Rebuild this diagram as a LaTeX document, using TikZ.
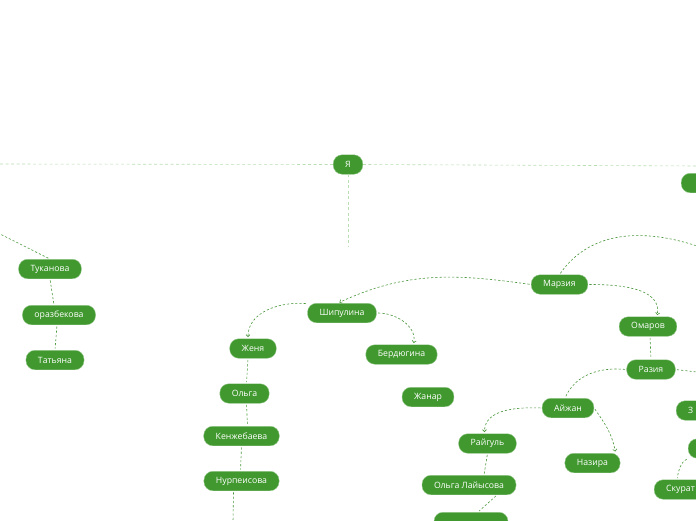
\documentclass[tikz,border=0pt]{standalone}
\usepackage{fontspec}
\setmainfont{Open Sans}
\usepackage{tikz}
\usetikzlibrary{arrows.meta,positioning,calc}

\definecolor{mapgreen}{RGB}{64,152,46}
\definecolor{maprim}{RGB}{150,200,140}
\definecolor{linkdark}{RGB}{72,150,58}
\definecolor{linklite}{RGB}{185,222,178}

\begin{document}
\begin{tikzpicture}[
    x=1pt, y=-1pt,
    >={Straight Barb[length=2pt,width=4pt]},
    topic/.style={draw=maprim, line width=0.4pt, fill=mapgreen, rounded corners=9pt, text=white,
        minimum height=19.5pt, inner xsep=12pt, inner ysep=0pt, font=\fontsize{8.7}{10}\selectfont},
    cut/.style={topic, anchor=west, text width=60pt, align=left},
    link/.style={draw=linkdark, line width=0.6pt, dash pattern=on 2.2pt off 2pt, shorten <=1.5pt, shorten >=1.5pt},
    lite/.style={draw=linklite, line width=0.6pt, dash pattern=on 3pt off 2.5pt},
    tip/.style={link, ->}
]
    \useasboundingbox (0,0) rectangle (696,520);
    \clip (0,0) rectangle (696,520);

    % root and its branches
    \node[topic] (me) at (348,164.5) {Я};
    \coordinate (offleft) at (0,164);
    \coordinate (offright) at (700,166);
    \coordinate (offdown) at (348,246);
    \draw[lite] (me.west) -- (offleft);
    \draw[lite] (me.east) -- (offright);
    \draw[lite] (me.south) -- (offdown);

    % left column
    \node[topic] (tukan) at (50,269) {Туканова};
    \node[topic] (oraz) at (59,315) {оразбекова};
    \node[topic] (tatyana) at (55,360) {Татьяна};
    \coordinate (offtukan) at (0,234);
    \draw[link] (offtukan) -- (tukan.north);
    \draw[link] (tukan.south) -- ([xshift=-5pt]oraz.north);
    \draw[link] ([xshift=-2pt]oraz.south) -- (tatyana.north);

    % Shipulina branch
    \node[topic] (shipul) at (342,313) {Шипулина};
    \node[topic] (zhenya) at (253,348.5) {Женя};
    \node[topic] (olga) at (244.5,393.5) {Ольга};
    \node[topic] (kenzh) at (241.5,436) {Кенжебаева};
    \node[topic] (nurp) at (241.5,481) {Нурпеисова};
    \node[topic] (berd) at (401.5,354.5) {Бердюгина};
    \node[topic] (zhanar) at (428,397) {Жанар};
    \coordinate (offnurp) at (233,522);

    \draw[tip] (shipul.165) to[out=175,in=90] ([xshift=-5pt]zhenya.north);
    \draw[tip] (shipul.east) to[out=0,in=80] ([xshift=12pt]berd.north);
    \draw[link] ([xshift=-5pt]zhenya.south) -- ([xshift=2pt]olga.north);
    \draw[link] ([xshift=2pt]olga.south) -- ([xshift=6pt]kenzh.north);
    \draw[link] (kenzh.south) -- ([xshift=-1pt]nurp.north);
    \draw[link] ([xshift=-8pt]nurp.south) -- (offnurp);

    % Marziya branch
    \node[topic] (marz) at (559.5,284.5) {Марзия};
    \node[topic] (omarov) at (648,326.5) {Омаров};
    \node[topic] (razia) at (651,369.5) {Разия};
    \node[topic] (aizhan) at (568,408) {Айжан};
    \node[topic] (raigul) at (487.5,443.5) {Райгуль};
    \node[topic] (nazira) at (592.5,463) {Назира};
    \node[topic] (olgal) at (469,485) {Ольга Лайысова};
    \node[topic, minimum width=74pt] (lowest) at (471,522) {};
    \coordinate (offmarz) at (697,246);
    \coordinate (offrazia) at (697,372);

    \draw[tip] (marz.west) to[out=172,in=25] ([xshift=-4pt]shipul.north);
    \draw[link] (marz.north) to[out=55,in=162] (offmarz);
    \draw[tip] (marz.east) to[out=0,in=80] ([xshift=9pt]omarov.north);
    \draw[link] ([xshift=2pt]omarov.south) -- (razia.north);
    \draw[link] (razia.west) to[out=175,in=65] ([xshift=-3pt]aizhan.north);
    \draw[link] (razia.east) -- (offrazia);
    \draw[tip] (aizhan.west) to[out=178,in=90] ([xshift=-3pt]raigul.north);
    \draw[tip] (aizhan.east) to[out=-55,in=100] ([xshift=23pt]nazira.north);
    \draw[link] (raigul.south) -- ([xshift=15pt]olgal.north);
    \draw[link] ([xshift=28pt]olgal.south) -- ([xshift=7pt]lowest.north);

    % nodes cut by the right edge
    \node[cut] (cutone) at (681,183) {};
    \node[cut] (cutthree) at (676,410.5) {З};
    \node[cut] (cutfour) at (688,448.5) {};
    \node[cut] (skurat) at (654,489.5) {Скурат};
    \draw[link] (cutfour.south west) to[out=-150,in=80] ([xshift=23pt]skurat.north west);
\end{tikzpicture}
\end{document}
